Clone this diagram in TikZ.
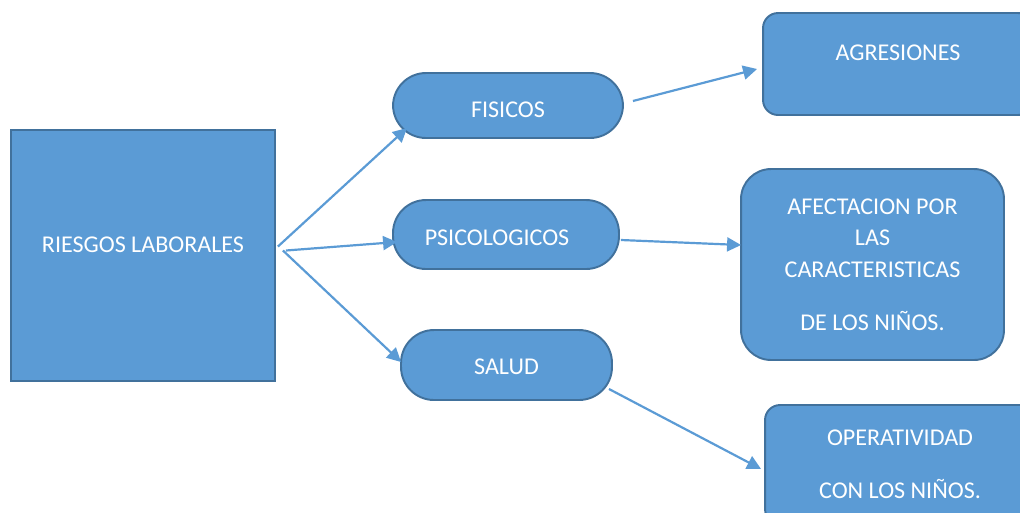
\documentclass[tikz,border=0pt]{standalone}
\usepackage{fontspec}
\setmainfont{Carlito}
\usepackage{tikz}
\usetikzlibrary{arrows.meta, positioning}

\definecolor{boxfill}{HTML}{5B9BD5}
\definecolor{boxline}{HTML}{41719C}

\begin{document}
\begin{tikzpicture}[x=0.02cm, y=-0.02cm,
        box/.style={rectangle, draw=boxline, fill=boxfill, line width=1.1pt, text=white, align=center,
            font=\fontsize{13.7}{18.1}\selectfont, inner sep=0pt},
        pill/.style={box, rounded corners=0.66cm},
        conn/.style={draw=boxfill, line width=1.25pt, -{Triangle[length=0.28cm, width=0.28cm]}}]

        \useasboundingbox (0,0) rectangle (1020,512);

        \node[box, minimum width=5.28cm, minimum height=5.02cm, text depth=12.5pt] (riesgos) at (143,255.5) {RIESGOS LABORALES};

        \node[pill, minimum width=4.6cm, minimum height=1.3cm, text height=13.5pt] (fisicos) at (508,105.5) {FISICOS};
        \node[pill, minimum width=4.52cm, minimum height=1.38cm, text height=12.4pt] (psico) at (506,234.5) {PSICOLOGICOS\hspace*{0.36cm}};
        \node[pill, minimum width=4.22cm, minimum height=1.4cm, text height=11.3pt] (salud) at (506.5,365) {SALUD};

        \node[box, rounded corners=0.3cm, minimum width=5.4cm, minimum height=2.04cm, text depth=13pt] (agresiones) at (898,64) {AGRESIONES};
        \node[box, rounded corners=0.6cm, minimum width=5.26cm, minimum height=3.82cm] (afectacion) at (872.5,264.5)
            {AFECTACION POR\\LAS\\CARACTERISTICAS\\[0.42cm]DE LOS NIÑOS.};
        \node[box, rounded corners=0.3cm, minimum width=5.4cm, minimum height=2.38cm] (operatividad) at (900,464.5)
            {OPERATIVIDAD\\[0.42cm]CON LOS NIÑOS.};

        \draw[conn] ([shift={(2,-9)}]riesgos.east) -- ([shift={(15,-11)}]fisicos.south west);
        \draw[conn] ([shift={(10,-5)}]riesgos.east) -- ([shift={(5,7.5)}]psico.west);
        \draw[conn] ([shift={(7,-5)}]riesgos.east) -- ([shift={(1,-3)}]salud.west);

        \draw[conn] ([shift={(9,-4.5)}]fisicos.east) -- ([shift={(-5,5)}]agresiones.west);
        \draw[conn] ([shift={(1,5.5)}]psico.east) -- ([shift={(1,-19.5)}]afectacion.west);
        \draw[conn] ([shift={(-4,-12)}]salud.south east) -- ([shift={(-3,4.5)}]operatividad.west);

    \end{tikzpicture}
\end{document}
